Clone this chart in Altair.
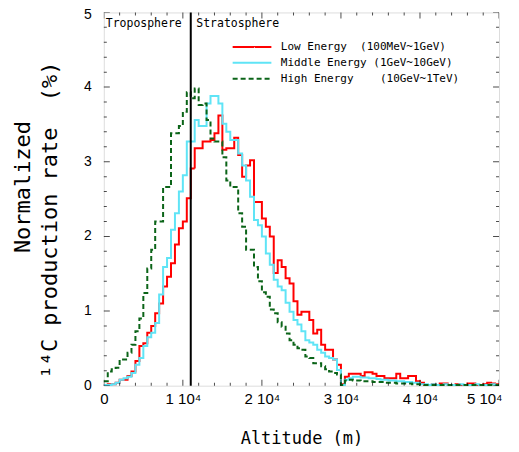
import altair as alt
import numpy as np
import pandas as pd

# ---------------- data ----------------
bin_width = 500  # m
low = [0.01, 0.02, 0.02, 0.04, 0.08, 0.08, 0.13, 0.19, 0.33, 0.53,
       0.57, 0.71, 0.80, 0.97, 1.10, 1.33, 1.46, 1.64, 1.89, 2.11,
       2.20, 2.51, 2.91, 3.18, 3.18, 3.27, 3.27, 3.29, 3.38, 3.62,
       3.16, 3.18, 3.18, 3.32, 3.09, 2.80, 2.95, 3.02, 2.46, 2.46,
       2.24, 2.13, 2.00, 1.51, 1.68, 1.59, 1.44, 1.37, 1.13, 0.95,
       0.99, 0.99, 0.88, 0.70, 0.75, 0.55, 0.48, 0.48, 0.35, 0.28,
       0.02, 0.12, 0.16, 0.16, 0.16, 0.13, 0.18, 0.18, 0.16, 0.13,
       0.13, 0.10, 0.10, 0.10, 0.16, 0.10, 0.10, 0.13, 0.13, 0.06,
       0.04, 0.01, 0.01, 0.02, 0.01, 0.03, 0.03, 0.01, 0.01, 0.02,
       0.01, 0.01, 0.03, 0.03, 0.01, 0.01, 0.02, 0.04, 0.03, 0.02]
middle = [0.01, 0.01, 0.02, 0.04, 0.08, 0.10, 0.12, 0.17, 0.28, 0.37,
          0.53, 0.65, 0.71, 0.84, 1.22, 1.59, 1.71, 2.09, 2.31, 2.60,
          2.82, 3.27, 3.27, 3.56, 3.48, 3.48, 3.78, 3.88, 3.88, 3.78,
          3.51, 3.40, 3.29, 3.29, 3.11, 2.95, 2.75, 2.53, 2.22, 2.15,
          2.00, 1.77, 1.62, 1.42, 1.33, 1.28, 1.11, 0.99, 0.88, 0.82,
          0.73, 0.61, 0.58, 0.55, 0.48, 0.44, 0.39, 0.37, 0.35, 0.21,
          0.01, 0.08, 0.10, 0.12, 0.12, 0.11, 0.11, 0.10, 0.10, 0.09,
          0.08, 0.08, 0.07, 0.07, 0.06, 0.06, 0.05, 0.05, 0.04, 0.04,
          0.02, 0.02, 0.01, 0.02, 0.01, 0.01, 0.02, 0.01, 0.01, 0.01,
          0.02, 0.01, 0.01, 0.01, 0.02, 0.01, 0.01, 0.01, 0.02, 0.01]
high = [0.06, 0.19, 0.22, 0.24, 0.35, 0.35, 0.44, 0.55, 0.73, 0.90,
        1.24, 1.57, 1.82, 2.20, 2.20, 2.66, 2.66, 3.38, 3.38, 3.48,
        3.67, 3.93, 3.85, 3.98, 3.76, 3.78, 3.56, 3.31, 3.27, 3.27,
        3.06, 2.75, 2.66, 2.66, 2.31, 2.13, 1.82, 1.82, 1.59, 1.40,
        1.25, 1.19, 1.02, 0.97, 0.85, 0.79, 0.70, 0.61, 0.55, 0.50,
        0.48, 0.39, 0.37, 0.30, 0.30, 0.26, 0.22, 0.19, 0.17, 0.15,
        0.01, 0.07, 0.08, 0.07, 0.07, 0.06, 0.06, 0.06, 0.05, 0.05,
        0.05, 0.04, 0.04, 0.04, 0.03, 0.03, 0.03, 0.03, 0.02, 0.02,
        0.01, 0.01, 0.01, 0.01, 0.01, 0.01, 0.01, 0.01, 0.01, 0.01,
        0.01, 0.01, 0.01, 0.01, 0.01, 0.01, 0.01, 0.01, 0.01, 0.01]

NB = "\u00a0"
series_names = ["Low Energy" + NB * 2 + "(100MeV~1GeV)",
                "Middle Energy" + NB + "(1GeV~10GeV)",
                "High Energy" + NB * 4 + "(10GeV~1TeV)"]
region_labels = ["Troposphere", "Stratosphere"]
y_title_lines = ["Normalized", "¹⁴C production rate" + NB * 2 + "(%)"]
x_title = "Altitude (m)"
tropopause = 11000  # m

x_major = [0, 10000, 20000, 30000, 40000, 50000]
x_minor = [v for v in range(0, 50001, 2000) if v % 10000 != 0]
y_major = [0, 1, 2, 3, 4, 5]
y_minor = [round(v * 0.2, 1) for v in range(26) if v % 5 != 0]

# ---------------- styles ----------------
colors = ["#ff0000", "#5fe4f6", "#0b6418"]
dashes = [[1, 0], [1, 0], [5, 3]]
MONO = "DejaVu Sans Mono"
LABF = "Liberation Sans"

xscale = alt.Scale(domain=[0, 50000], nice=False, zero=False)
yscale = alt.Scale(domain=[0, 5], nice=False, zero=False)
cscale = alt.Scale(domain=series_names, range=colors)
dscale = alt.Scale(domain=series_names, range=dashes)

edges = np.arange(len(low) + 1) * bin_width


def step_df(vals, name):
    return pd.DataFrame({"alt": edges, "rate": list(vals) + [vals[-1]], "series": name})


last_x = "datum.value == %d" % x_major[-1]
xaxis = alt.Axis(values=x_major, ticks=False, domain=False, grid=False,
                 labelExpr="datum.value == 0 ? '0' : (datum.value / 10000) + ' 10⁴'",
                 labelFont=LABF, labelFontSize=15, labelColor="black", labelPadding=6,
                 labelFlush=False, labelOverlap=False,
                 labelAlign={"condition": {"test": last_x, "value": "right"}, "value": "center"},
                 labelOffset={"condition": {"test": last_x, "value": 3}, "value": 0},
                 title=x_title, titleFont=MONO, titleFontSize=17,
                 titleFontWeight="normal", titleColor="black",
                 titleY=53, titleBaseline="middle")
yaxis = alt.Axis(ticks=False, domain=False, grid=False, labels=False, title="")

layers = []
for vals, name in zip([low, middle, high], series_names):
    layers.append(
        alt.Chart(step_df(vals, name)).mark_line(interpolate="step-after", strokeWidth=2)
        .encode(x=alt.X("alt:Q", scale=xscale, axis=xaxis),
                y=alt.Y("rate:Q", scale=yscale, axis=yaxis),
                color=alt.Color("series:N", scale=cscale, legend=None),
                strokeDash=alt.StrokeDash("series:N", scale=dscale, legend=None))
    )

# tropopause line
trop = alt.Chart(pd.DataFrame({"alt": [tropopause]})).mark_rule(color="black", strokeWidth=2).encode(
    x=alt.X("alt:Q", scale=xscale))


# inward ticks (clipped half ticks)
def ticks(values, edge, vertical, length):
    df = pd.DataFrame({"v": values})
    mk = alt.Chart(df).mark_tick(orient="vertical" if vertical else "horizontal",
                                 size=2 * length, thickness=1, color="black", clip=True)
    if vertical:
        return mk.encode(x=alt.X("v:Q", scale=xscale), y=alt.datum(edge, scale=yscale))
    return mk.encode(y=alt.Y("v:Q", scale=yscale), x=alt.datum(edge, scale=xscale))


tick_layers = [
    ticks(x_major, 0, True, 6), ticks(x_minor, 0, True, 3),
    ticks(x_major, 5, True, 6), ticks(x_minor, 5, True, 3),
    ticks(y_major, 0, False, 6), ticks(y_minor, 0, False, 3),
    ticks(y_major, 50000, False, 6), ticks(y_minor, 50000, False, 3),
]

# y tick labels (the top one nudged so it stays on the page)
ylab_df = pd.DataFrame({"v": y_major, "t": [str(v) for v in y_major]})
ylab_low = alt.Chart(ylab_df[ylab_df.v < 5]).mark_text(
    font=LABF, fontSize=14, align="right", baseline="middle", color="black").encode(
    x=alt.value(-12), y=alt.Y("v:Q", scale=yscale), text="t:N")
ylab_top = alt.Chart(ylab_df[ylab_df.v == 5]).mark_text(
    font=LABF, fontSize=14, align="right", baseline="middle", color="black", dy=3).encode(
    x=alt.value(-12), y=alt.Y("v:Q", scale=yscale), text="t:N")

# region labels
reg = alt.Chart(pd.DataFrame({"label": region_labels, "x": [250, 11700], "y": [4.85, 4.85]})).mark_text(
    font=MONO, fontSize=11.5, align="left", baseline="middle", color="black").encode(
    x=alt.X("x:Q", scale=xscale), y=alt.Y("y:Q", scale=yscale), text="label:N")

# y-axis title (two lines, rotated)
ytitle_layers = [
    alt.Chart(pd.DataFrame({"t": [y_title_lines[0]]})).mark_text(
        font=MONO, fontSize=22, angle=270, align="center", baseline="middle", color="black").encode(
        x=alt.value(-81), y=alt.value(175), text="t:N"),
    alt.Chart(pd.DataFrame({"t": [y_title_lines[1]]})).mark_text(
        font=MONO, fontSize=22, angle=270, align="center", baseline="middle", color="black").encode(
        x=alt.value(-54), y=alt.value(208), text="t:N"),
]

# legend
leg_df = pd.DataFrame({"series": series_names, "x1": [16300] * 3, "x2": [21200] * 3,
                       "tx": [22400] * 3, "y": [4.536, 4.325, 4.11]})
leg_lines = alt.Chart(leg_df).mark_rule(strokeWidth=2).encode(
    x=alt.X("x1:Q", scale=xscale), x2="x2:Q", y=alt.Y("y:Q", scale=yscale),
    color=alt.Color("series:N", scale=cscale, legend=None),
    strokeDash=alt.StrokeDash("series:N", scale=dscale, legend=None))
leg_text = alt.Chart(leg_df).mark_text(font=MONO, fontSize=11, align="left", baseline="middle",
                                       color="black").encode(
    x=alt.X("tx:Q", scale=xscale), y=alt.Y("y:Q", scale=yscale), text="series:N")

chart = alt.layer(*layers, trop, *tick_layers, ylab_low, ylab_top, reg, *ytitle_layers,
                  leg_lines, leg_text).properties(
    width=396, height=374,
    autosize=alt.AutoSizeParams(type="none"),
    padding={"left": 96, "top": 4, "right": 12, "bottom": 62},
).configure_view(stroke="black", strokeWidth=2).configure(background="white")

chart.save("out.html", embed_options={"renderer": "svg", "actions": False})
